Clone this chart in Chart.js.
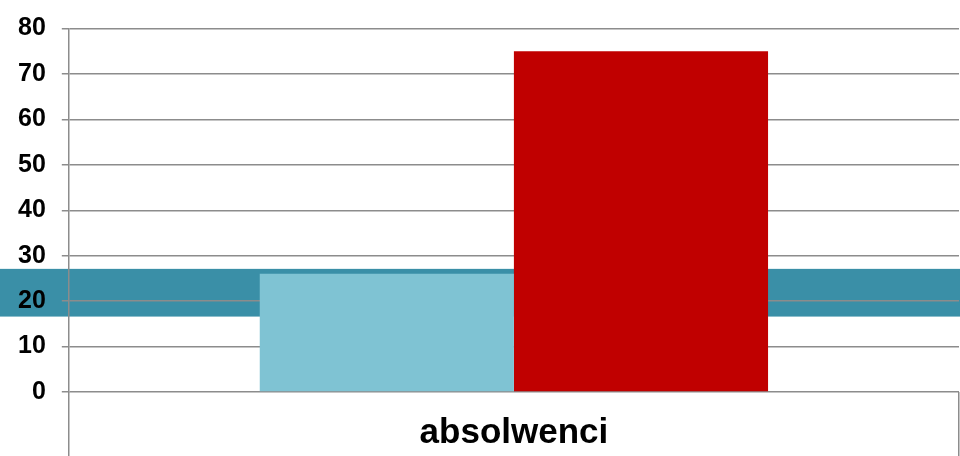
<!DOCTYPE html>
<html>
<head>
<meta charset="utf-8">
<script src="https://cdn.jsdelivr.net/npm/chart.js@4"></script>
<style>
  html, body { margin: 0; padding: 0; background: #ffffff; }
  #wrap { width: 960px; height: 456px; position: relative; }
</style>
</head>
<body>
<div id="wrap"><canvas id="c"></canvas></div>
<script>
const categories = ['absolwenci'];
const seriesA = [26];
const seriesB = [75];
const yTicks = [0, 10, 20, 30, 40, 50, 60, 70, 80];
const bandRange = [16.6, 27.1];

const bandPlugin = {
  id: 'band',
  beforeDraw(chart) {
    const y = chart.scales.y;
    const ctx = chart.ctx;
    const top = y.getPixelForValue(bandRange[1]);
    const bottom = y.getPixelForValue(bandRange[0]);
    ctx.save();
    ctx.fillStyle = '#3a8fa7';
    ctx.fillRect(0, top, chart.width, bottom - top);
    ctx.restore();
  }
};

new Chart(document.getElementById('c'), {
  type: 'bar',
  data: {
    labels: categories,
    datasets: [
      { data: seriesA, backgroundColor: '#7fc3d3', borderWidth: 0 },
      { data: seriesB, backgroundColor: '#c00000', borderWidth: 0 }
    ]
  },
  options: {
    responsive: true,
    maintainAspectRatio: false,
    animation: false,
    devicePixelRatio: 1,
    layout: { padding: { left: 2, right: 1, top: 14, bottom: 0 } },
    plugins: { legend: { display: false }, tooltip: { enabled: false } },
    datasets: { bar: { categoryPercentage: 0.571, barPercentage: 1.0 } },
    scales: {
      x: {
        offset: true,
        border: { display: false },
        afterFit(scale) { scale.height = 64; },
        grid: {
          offset: true,
          drawOnChartArea: false,
          drawTicks: true,
          tickLength: 64,
          color: '#8c8c8c',
          lineWidth: 1.5
        },
        ticks: {
          color: '#000000',
          padding: -44,
          autoSkip: false,
          maxRotation: 0,
          font: { family: 'Liberation Sans, Arial, sans-serif', size: 35, weight: 'bold' }
        }
      },
      y: {
        min: 0,
        max: 80,
        afterBuildTicks(scale) { scale.ticks = yTicks.map(v => ({ value: v })); },
        border: { display: true, color: '#8c8c8c', width: 1.5 },
        grid: {
          color: '#8c8c8c',
          lineWidth: 1.5,
          drawTicks: true,
          tickLength: 7
        },
        ticks: {
          color: '#000000',
          padding: 16,
          font: { family: 'Liberation Sans, Arial, sans-serif', size: 25, weight: 'bold', lineHeight: 1 }
        }
      }
    }
  },
  plugins: [bandPlugin]
});
</script>
</body>
</html>
